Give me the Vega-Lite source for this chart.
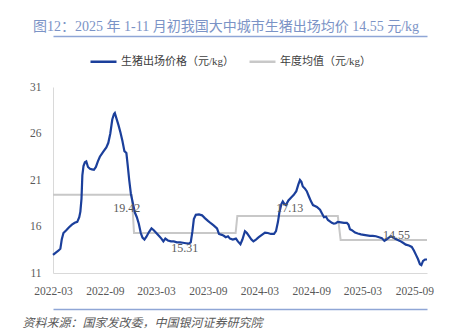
{
  "$schema": "https://vega.github.io/schema/vega-lite/v6.json",
  "width": 374,
  "height": 186,
  "autosize": {"type": "none"},
  "padding": {"left": 53, "top": 87, "right": 25, "bottom": 62},
  "background": "white",
  "title": {
    "text": "图12：2025 年 1-11 月初我国大中城市生猪出场均价 14.55 元/kg",
    "anchor": "start",
    "frame": "group",
    "dx": -20,
    "dy": 2,
    "font": "Liberation Serif, Noto Sans CJK SC",
    "fontSize": 14,
    "fontWeight": "normal",
    "color": "#7b93c6"
  },
  "datasets": {
    "price": [
      {"date": "2022-03-21", "value": 12.95}, {"date": "2022-03-31", "value": 13.2}, {"date": "2022-04-09", "value": 13.4},
      {"date": "2022-04-16", "value": 13.6}, {"date": "2022-04-21", "value": 14.6}, {"date": "2022-04-27", "value": 15.3},
      {"date": "2022-05-07", "value": 15.6}, {"date": "2022-05-16", "value": 15.9}, {"date": "2022-05-27", "value": 16.2},
      {"date": "2022-06-06", "value": 16.4}, {"date": "2022-06-15", "value": 16.5}, {"date": "2022-06-22", "value": 17.0},
      {"date": "2022-06-26", "value": 17.6}, {"date": "2022-06-30", "value": 19.0}, {"date": "2022-07-03", "value": 21.5},
      {"date": "2022-07-07", "value": 22.5}, {"date": "2022-07-12", "value": 22.9}, {"date": "2022-07-17", "value": 23.0},
      {"date": "2022-07-23", "value": 22.4}, {"date": "2022-07-30", "value": 22.2}, {"date": "2022-08-06", "value": 22.15},
      {"date": "2022-08-13", "value": 22.1}, {"date": "2022-08-20", "value": 22.4}, {"date": "2022-08-27", "value": 23.0},
      {"date": "2022-09-03", "value": 23.5}, {"date": "2022-09-14", "value": 24.0}, {"date": "2022-09-26", "value": 24.5},
      {"date": "2022-10-03", "value": 25.0}, {"date": "2022-10-10", "value": 26.0}, {"date": "2022-10-17", "value": 27.5},
      {"date": "2022-10-23", "value": 28.1}, {"date": "2022-10-26", "value": 28.2}, {"date": "2022-11-01", "value": 27.6},
      {"date": "2022-11-08", "value": 26.9}, {"date": "2022-11-15", "value": 26.1}, {"date": "2022-11-22", "value": 25.2},
      {"date": "2022-11-29", "value": 24.1}, {"date": "2022-12-06", "value": 23.9}, {"date": "2022-12-11", "value": 22.5},
      {"date": "2022-12-16", "value": 21.0}, {"date": "2022-12-22", "value": 19.5}, {"date": "2022-12-29", "value": 18.5},
      {"date": "2023-01-05", "value": 17.5}, {"date": "2023-01-12", "value": 17.0}, {"date": "2023-01-19", "value": 16.3},
      {"date": "2023-01-26", "value": 15.3}, {"date": "2023-02-01", "value": 14.8}, {"date": "2023-02-08", "value": 14.6},
      {"date": "2023-02-15", "value": 14.9}, {"date": "2023-02-24", "value": 15.4}, {"date": "2023-03-05", "value": 15.8},
      {"date": "2023-03-13", "value": 15.6}, {"date": "2023-03-22", "value": 15.3}, {"date": "2023-03-31", "value": 15.0},
      {"date": "2023-04-09", "value": 14.7}, {"date": "2023-04-16", "value": 14.4}, {"date": "2023-04-23", "value": 14.7},
      {"date": "2023-05-02", "value": 14.5}, {"date": "2023-05-13", "value": 14.4}, {"date": "2023-05-23", "value": 14.4},
      {"date": "2023-06-03", "value": 14.3}, {"date": "2023-06-14", "value": 14.3}, {"date": "2023-06-24", "value": 14.25},
      {"date": "2023-07-05", "value": 14.2}, {"date": "2023-07-15", "value": 14.15}, {"date": "2023-07-22", "value": 14.3},
      {"date": "2023-07-28", "value": 15.5}, {"date": "2023-08-02", "value": 16.8}, {"date": "2023-08-09", "value": 17.25},
      {"date": "2023-08-20", "value": 17.3}, {"date": "2023-08-31", "value": 17.2}, {"date": "2023-09-10", "value": 16.9},
      {"date": "2023-09-21", "value": 16.6}, {"date": "2023-10-01", "value": 16.35}, {"date": "2023-10-12", "value": 16.1},
      {"date": "2023-10-23", "value": 15.8}, {"date": "2023-10-30", "value": 15.2}, {"date": "2023-11-09", "value": 15.1},
      {"date": "2023-11-16", "value": 15.0}, {"date": "2023-11-23", "value": 14.85}, {"date": "2023-12-01", "value": 14.95},
      {"date": "2023-12-08", "value": 14.7}, {"date": "2023-12-18", "value": 14.6}, {"date": "2023-12-29", "value": 14.7},
      {"date": "2024-01-05", "value": 14.4}, {"date": "2024-01-14", "value": 14.1}, {"date": "2024-01-21", "value": 14.6},
      {"date": "2024-01-30", "value": 15.5}, {"date": "2024-02-06", "value": 15.3}, {"date": "2024-02-13", "value": 15.0},
      {"date": "2024-02-22", "value": 14.6}, {"date": "2024-02-29", "value": 14.4}, {"date": "2024-03-09", "value": 14.6},
      {"date": "2024-03-19", "value": 14.85}, {"date": "2024-03-30", "value": 15.1}, {"date": "2024-04-10", "value": 15.35},
      {"date": "2024-04-20", "value": 15.3}, {"date": "2024-05-01", "value": 15.2}, {"date": "2024-05-12", "value": 15.2},
      {"date": "2024-05-19", "value": 15.5}, {"date": "2024-05-26", "value": 16.5}, {"date": "2024-05-31", "value": 17.5},
      {"date": "2024-06-07", "value": 18.4}, {"date": "2024-06-12", "value": 18.7}, {"date": "2024-06-18", "value": 18.4},
      {"date": "2024-06-23", "value": 18.3}, {"date": "2024-07-02", "value": 18.8}, {"date": "2024-07-11", "value": 19.1},
      {"date": "2024-07-21", "value": 19.4}, {"date": "2024-07-30", "value": 19.8}, {"date": "2024-08-06", "value": 20.5},
      {"date": "2024-08-12", "value": 21.0}, {"date": "2024-08-17", "value": 20.8}, {"date": "2024-08-22", "value": 20.3},
      {"date": "2024-08-29", "value": 20.1}, {"date": "2024-09-05", "value": 19.8}, {"date": "2024-09-13", "value": 19.2},
      {"date": "2024-09-20", "value": 18.7}, {"date": "2024-09-27", "value": 18.3}, {"date": "2024-10-04", "value": 18.2},
      {"date": "2024-10-11", "value": 18.1}, {"date": "2024-10-22", "value": 17.8}, {"date": "2024-10-29", "value": 17.4},
      {"date": "2024-11-05", "value": 17.0}, {"date": "2024-11-12", "value": 17.05}, {"date": "2024-11-19", "value": 16.7},
      {"date": "2024-11-26", "value": 16.55}, {"date": "2024-12-03", "value": 16.4}, {"date": "2024-12-10", "value": 16.3},
      {"date": "2024-12-17", "value": 16.35}, {"date": "2024-12-24", "value": 16.5}, {"date": "2025-01-04", "value": 16.45},
      {"date": "2025-01-15", "value": 16.4}, {"date": "2025-01-25", "value": 16.4}, {"date": "2025-01-31", "value": 16.2},
      {"date": "2025-02-05", "value": 15.7}, {"date": "2025-02-12", "value": 15.6}, {"date": "2025-02-23", "value": 15.35},
      {"date": "2025-03-05", "value": 15.25}, {"date": "2025-03-16", "value": 15.15}, {"date": "2025-03-26", "value": 15.1},
      {"date": "2025-04-06", "value": 15.05}, {"date": "2025-04-17", "value": 15.0}, {"date": "2025-04-27", "value": 15.0},
      {"date": "2025-05-08", "value": 14.95}, {"date": "2025-05-19", "value": 14.85}, {"date": "2025-05-29", "value": 14.75},
      {"date": "2025-06-07", "value": 14.45}, {"date": "2025-06-14", "value": 14.6}, {"date": "2025-06-23", "value": 14.8},
      {"date": "2025-06-30", "value": 14.95}, {"date": "2025-07-07", "value": 14.85}, {"date": "2025-07-14", "value": 14.7},
      {"date": "2025-07-21", "value": 14.6}, {"date": "2025-08-01", "value": 14.45}, {"date": "2025-08-12", "value": 14.25},
      {"date": "2025-08-22", "value": 14.05}, {"date": "2025-09-02", "value": 13.95}, {"date": "2025-09-12", "value": 13.8},
      {"date": "2025-09-20", "value": 13.4}, {"date": "2025-09-27", "value": 12.95}, {"date": "2025-10-04", "value": 12.5},
      {"date": "2025-10-11", "value": 11.95}, {"date": "2025-10-16", "value": 11.85}, {"date": "2025-10-22", "value": 12.3},
      {"date": "2025-10-29", "value": 12.45}, {"date": "2025-11-05", "value": 12.45}
    ],
    "avg": [
      {"date": "2022-03-21", "value": 19.42}, {"date": "2022-12-25", "value": 19.42},
      {"date": "2023-01-02", "value": 15.31}, {"date": "2023-12-28", "value": 15.31},
      {"date": "2024-01-03", "value": 17.13}, {"date": "2024-12-24", "value": 17.13},
      {"date": "2025-01-03", "value": 14.55}, {"date": "2025-11-05", "value": 14.55}
    ],
    "labels": [
      {"date": "2022-12-07", "value": 17.95, "label": "19.42"},
      {"date": "2023-07-01", "value": 13.66, "label": "15.31"},
      {"date": "2024-07-07", "value": 18.02, "label": "17.13"},
      {"date": "2025-07-20", "value": 15.09, "label": "14.55"}
    ]
  },
  "layer": [
    {
      "data": {"name": "avg"},
      "mark": {"type": "line", "strokeWidth": 2},
      "encoding": {
        "x": {
          "field": "date", "type": "temporal",
          "scale": {"type": "utc", "nice": false, "domain": [{"year": 2022, "month": 3, "date": 21, "utc": true}, {"year": 2025, "month": 11, "date": 5, "utc": true}]},
          "axis": {
            "values": [
              {"year": 2022, "month": 3, "date": 21, "utc": true}, {"year": 2022, "month": 9, "date": 21, "utc": true},
              {"year": 2023, "month": 3, "date": 21, "utc": true}, {"year": 2023, "month": 9, "date": 21, "utc": true},
              {"year": 2024, "month": 3, "date": 21, "utc": true}, {"year": 2024, "month": 9, "date": 21, "utc": true},
              {"year": 2025, "month": 3, "date": 21, "utc": true}, {"year": 2025, "month": 9, "date": 21, "utc": true}
            ],
            "format": "%Y-%m",
            "orient": "bottom",
            "labelFont": "Liberation Serif",
            "labelFontSize": 11.5,
            "labelColor": "#595959",
            "labelPadding": 12,
            "labelAngle": 0,
            "labelFlush": false,
            "labelOverlap": false,
            "ticks": false,
            "grid": false,
            "domainColor": "#d9d9d9",
            "title": null
          }
        },
        "y": {
          "field": "value", "type": "quantitative",
          "scale": {"domain": [11, 31], "nice": false, "zero": false},
          "axis": {
            "values": [11, 16, 21, 26, 31],
            "labelFont": "Liberation Serif",
            "labelFontSize": 11.5,
            "labelColor": "#595959",
            "labelPadding": 12,
            "ticks": false,
            "grid": false,
            "domainColor": "#d9d9d9",
            "title": null
          }
        },
        "color": {
          "datum": "年度均值（元/kg）",
          "scale": {"domain": ["生猪出场价格（元/kg）", "年度均值（元/kg）"], "range": ["#1b3f9b", "#c8c8c8"]},
          "legend": {
            "orient": "none",
            "legendX": 36,
            "legendY": -40,
            "direction": "horizontal",
            "title": null,
            "symbolType": "stroke",
            "symbolSize": 676,
            "symbolStrokeWidth": 2.5,
            "labelFont": "Liberation Serif, Noto Sans CJK SC",
            "labelFontSize": 11,
            "labelColor": "#404040",
            "labelOffset": 3,
            "columnPadding": 9
          }
        }
      }
    },
    {
      "data": {"name": "price"},
      "mark": {"type": "line", "strokeWidth": 2.2},
      "encoding": {
        "x": {
          "field": "date", "type": "temporal",
          "axis": {
            "orient": "bottom",
            "offset": 36,
            "labels": false,
            "ticks": false,
            "grid": false,
            "domainColor": "#8fa6d6",
            "domainWidth": 1.5,
            "title": "资料来源：国家发改委，中国银河证券研究院",
            "titleFont": "Noto Sans CJK SC",
            "titleFontSize": 12,
            "titleFontStyle": "italic",
            "titleFontWeight": "normal",
            "titleColor": "#595959",
            "titleAlign": "left",
            "titleAnchor": "start",
            "titleBaseline": "middle",
            "titleX": -31,
            "titleY": 13
          }
        },
        "y": {"field": "value", "type": "quantitative"},
        "color": {"datum": "生猪出场价格（元/kg）"}
      }
    },
    {
      "data": {"name": "labels"},
      "mark": {"type": "text", "font": "Liberation Serif", "fontSize": 12, "color": "#595959", "align": "center", "baseline": "middle"},
      "encoding": {
        "x": {
          "field": "date", "type": "temporal",
          "axis": {
            "orient": "top",
            "offset": 51,
            "labels": false,
            "ticks": false,
            "grid": false,
            "domainColor": "#8fa6d6",
            "domainWidth": 1.5,
            "title": null
          }
        },
        "y": {"field": "value", "type": "quantitative"},
        "text": {"field": "label"}
      }
    }
  ],
  "resolve": {"axis": {"x": "independent"}},
  "config": {"view": {"stroke": null}}
}
